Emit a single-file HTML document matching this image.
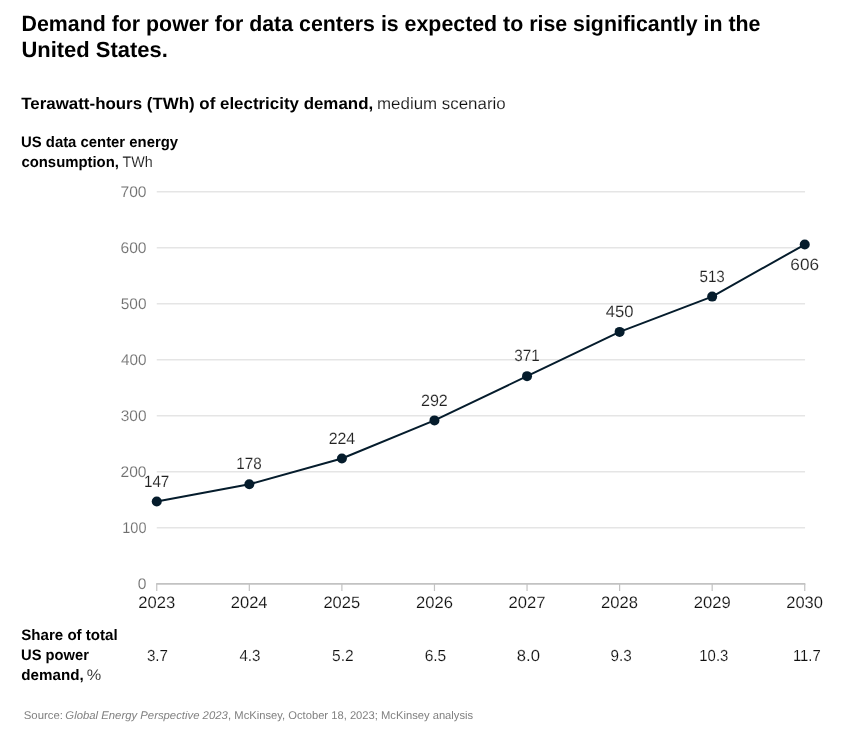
<!DOCTYPE html>
<html lang="en">
<head>
<meta charset="utf-8">
<title>Demand for power for data centers is expected to rise significantly in the United States.</title>
<style>
html,body{margin:0;padding:0;background:#fff;}
body{width:865px;height:732px;overflow:hidden;font-family:"Liberation Sans",Arial,Helvetica,sans-serif;}
svg{display:block;font-family:"Liberation Sans",Arial,Helvetica,sans-serif;}
text{white-space:pre;text-rendering:geometricPrecision;}
.t{font-weight:700;font-size:22px;fill:#000;}
.sb{font-weight:700;font-size:16.5px;fill:#000;}
.sl{font-size:16.5px;fill:#111;}
.ab{font-weight:700;font-size:15.2px;fill:#000;}
.al{font-size:15.2px;fill:#111;}
.yl{font-size:15.5px;fill:#6e6e6e;}
.xl{font-size:16.5px;fill:#111;}
.dl{font-size:16.4px;fill:#222;}
.sh{font-size:16px;fill:#111;}
.src{font-size:11.2px;fill:#808080;}
.sl,.al,.yl,.xl,.dl,.sh{stroke:#fff;stroke-width:0.14px;}
.srci{font-size:11.2px;fill:#808080;font-style:italic;}
</style>
</head>
<body>
<svg width="865" height="732" viewBox="0 0 865 732">
<rect width="865" height="732" fill="#fff"/>
<g id="grid">
<line x1="156.75" x2="805.05" y1="527.70" y2="527.70" stroke="#e5e5e5" stroke-width="1.4"/>
<line x1="156.75" x2="805.05" y1="471.70" y2="471.70" stroke="#e5e5e5" stroke-width="1.4"/>
<line x1="156.75" x2="805.05" y1="415.70" y2="415.70" stroke="#e5e5e5" stroke-width="1.4"/>
<line x1="156.75" x2="805.05" y1="359.70" y2="359.70" stroke="#e5e5e5" stroke-width="1.4"/>
<line x1="156.75" x2="805.05" y1="303.70" y2="303.70" stroke="#e5e5e5" stroke-width="1.4"/>
<line x1="156.75" x2="805.05" y1="247.70" y2="247.70" stroke="#e5e5e5" stroke-width="1.4"/>
<line x1="156.75" x2="805.05" y1="191.70" y2="191.70" stroke="#e5e5e5" stroke-width="1.4"/>
</g>
<g id="axis">
<line x1="156.15" x2="805.35" y1="583.9" y2="583.9" stroke="#c2c2c2" stroke-width="1.6"/>
<line x1="156.75" x2="156.75" y1="583.9" y2="591.0" stroke="#c2c2c2" stroke-width="1.2"/>
<line x1="249.32" x2="249.32" y1="583.9" y2="591.0" stroke="#c2c2c2" stroke-width="1.2"/>
<line x1="341.89" x2="341.89" y1="583.9" y2="591.0" stroke="#c2c2c2" stroke-width="1.2"/>
<line x1="434.46" x2="434.46" y1="583.9" y2="591.0" stroke="#c2c2c2" stroke-width="1.2"/>
<line x1="527.04" x2="527.04" y1="583.9" y2="591.0" stroke="#c2c2c2" stroke-width="1.2"/>
<line x1="619.61" x2="619.61" y1="583.9" y2="591.0" stroke="#c2c2c2" stroke-width="1.2"/>
<line x1="712.18" x2="712.18" y1="583.9" y2="591.0" stroke="#c2c2c2" stroke-width="1.2"/>
<line x1="804.75" x2="804.75" y1="583.9" y2="591.0" stroke="#c2c2c2" stroke-width="1.2"/>
</g>
<g id="series">
<polyline points="156.75,501.58 249.32,484.22 341.89,458.46 434.46,420.38 527.04,376.14 619.61,331.90 712.18,296.62 804.75,244.54" fill="none" stroke="#051c2c" stroke-width="2" stroke-linejoin="round"/>
<circle cx="156.75" cy="501.58" r="5.0" fill="#051c2c"/>
<circle cx="249.32" cy="484.22" r="5.0" fill="#051c2c"/>
<circle cx="341.89" cy="458.46" r="5.0" fill="#051c2c"/>
<circle cx="434.46" cy="420.38" r="5.0" fill="#051c2c"/>
<circle cx="527.04" cy="376.14" r="5.0" fill="#051c2c"/>
<circle cx="619.61" cy="331.90" r="5.0" fill="#051c2c"/>
<circle cx="712.18" cy="296.62" r="5.0" fill="#051c2c"/>
<circle cx="804.75" cy="244.54" r="5.0" fill="#051c2c"/>
</g>
<g id="labels">
<text class="t" x="21.54" y="31.00" textLength="738.92" lengthAdjust="spacingAndGlyphs">Demand for power for data centers is expected to rise significantly in the</text>
<text class="t" x="21.45" y="57.00" textLength="146.30" lengthAdjust="spacingAndGlyphs">United States.</text>
<text class="sb" x="21.24" y="109.00" textLength="351.92" lengthAdjust="spacingAndGlyphs">Terawatt-hours (TWh) of electricity demand,</text>
<text class="sl" x="377.02" y="109.00" textLength="128.69" lengthAdjust="spacingAndGlyphs">medium scenario</text>
<text class="ab" x="21.02" y="147.00" textLength="157.05" lengthAdjust="spacingAndGlyphs">US data center energy</text>
<text class="ab" x="21.41" y="167.00" textLength="97.53" lengthAdjust="spacingAndGlyphs">consumption,</text>
<text class="al" x="122.53" y="167.00" textLength="30.17" lengthAdjust="spacingAndGlyphs">TWh</text>
<text class="ab" x="21.20" y="640.00" textLength="96.54" lengthAdjust="spacingAndGlyphs">Share of total</text>
<text class="ab" x="21.03" y="660.00" textLength="67.86" lengthAdjust="spacingAndGlyphs">US power</text>
<text class="ab" x="21.25" y="680.00" textLength="62.40" lengthAdjust="spacingAndGlyphs">demand,</text>
<text class="al" x="86.83" y="680.00" textLength="14.46" lengthAdjust="spacingAndGlyphs">%</text>
<text class="src" x="23.79" y="719.00" textLength="39.19" lengthAdjust="spacingAndGlyphs">Source:</text>
<text class="srci" x="65.39" y="719.00" textLength="162.41" lengthAdjust="spacingAndGlyphs">Global Energy Perspective 2023</text>
<text class="src" x="228.10" y="719.00" textLength="245.03" lengthAdjust="spacingAndGlyphs">, McKinsey, October 18, 2023; McKinsey analysis</text>
<text class="yl" x="137.84" y="589.00" textLength="8.68" lengthAdjust="spacingAndGlyphs">0</text>
<text class="yl" x="122.33" y="533.00" textLength="24.15" lengthAdjust="spacingAndGlyphs">100</text>
<text class="yl" x="120.49" y="477.00" textLength="26.04" lengthAdjust="spacingAndGlyphs">200</text>
<text class="yl" x="120.75" y="421.00" textLength="25.77" lengthAdjust="spacingAndGlyphs">300</text>
<text class="yl" x="121.01" y="365.00" textLength="25.51" lengthAdjust="spacingAndGlyphs">400</text>
<text class="yl" x="120.75" y="309.00" textLength="25.77" lengthAdjust="spacingAndGlyphs">500</text>
<text class="yl" x="120.49" y="253.00" textLength="26.04" lengthAdjust="spacingAndGlyphs">600</text>
<text class="yl" x="120.49" y="197.00" textLength="26.04" lengthAdjust="spacingAndGlyphs">700</text>
<text class="xl" x="138.24" y="608.00" textLength="36.98" lengthAdjust="spacingAndGlyphs">2023</text>
<text class="xl" x="230.82" y="608.00" textLength="36.72" lengthAdjust="spacingAndGlyphs">2024</text>
<text class="xl" x="323.39" y="608.00" textLength="36.72" lengthAdjust="spacingAndGlyphs">2025</text>
<text class="xl" x="415.96" y="608.00" textLength="36.98" lengthAdjust="spacingAndGlyphs">2026</text>
<text class="xl" x="508.53" y="608.00" textLength="36.98" lengthAdjust="spacingAndGlyphs">2027</text>
<text class="xl" x="601.10" y="608.00" textLength="36.98" lengthAdjust="spacingAndGlyphs">2028</text>
<text class="xl" x="693.67" y="608.00" textLength="36.98" lengthAdjust="spacingAndGlyphs">2029</text>
<text class="xl" x="786.25" y="608.00" textLength="36.72" lengthAdjust="spacingAndGlyphs">2030</text>
<text class="sh" x="146.89" y="661.00" textLength="21.06" lengthAdjust="spacingAndGlyphs">3.7</text>
<text class="sh" x="239.43" y="661.00" textLength="21.03" lengthAdjust="spacingAndGlyphs">4.3</text>
<text class="sh" x="332.07" y="661.00" textLength="21.60" lengthAdjust="spacingAndGlyphs">5.2</text>
<text class="sh" x="424.63" y="661.00" textLength="21.60" lengthAdjust="spacingAndGlyphs">6.5</text>
<text class="sh" x="516.82" y="661.00" textLength="23.16" lengthAdjust="spacingAndGlyphs">8.0</text>
<text class="sh" x="610.58" y="661.00" textLength="21.23" lengthAdjust="spacingAndGlyphs">9.3</text>
<text class="sh" x="699.35" y="661.00" textLength="28.96" lengthAdjust="spacingAndGlyphs">10.3</text>
<text class="sh" x="792.93" y="661.00" textLength="27.86" lengthAdjust="spacingAndGlyphs">11.7</text>
<text class="dl" x="143.92" y="487.00" textLength="25.44" lengthAdjust="spacingAndGlyphs">147</text>
<text class="dl" x="236.25" y="469.00" textLength="25.44" lengthAdjust="spacingAndGlyphs">178</text>
<text class="dl" x="328.63" y="444.00" textLength="26.56" lengthAdjust="spacingAndGlyphs">224</text>
<text class="dl" x="420.92" y="406.00" textLength="26.93" lengthAdjust="spacingAndGlyphs">292</text>
<text class="dl" x="514.33" y="361.00" textLength="25.44" lengthAdjust="spacingAndGlyphs">371</text>
<text class="dl" x="605.79" y="317.00" textLength="27.78" lengthAdjust="spacingAndGlyphs">450</text>
<text class="dl" x="699.43" y="282.00" textLength="25.44" lengthAdjust="spacingAndGlyphs">513</text>
<text class="dl" x="790.35" y="270.00" textLength="28.75" lengthAdjust="spacingAndGlyphs">606</text>
</g>
</svg>
</body>
</html>
